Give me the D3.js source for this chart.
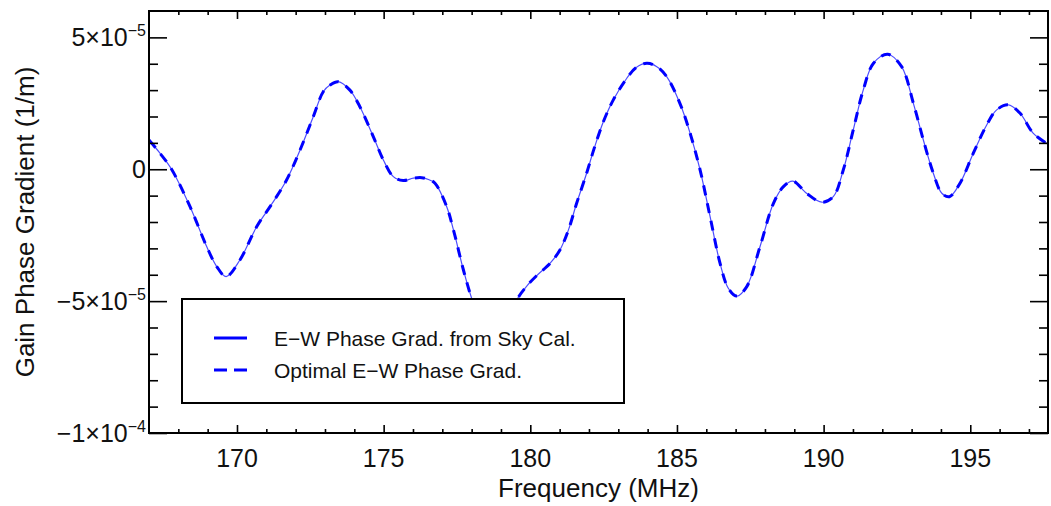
<!DOCTYPE html>
<html>
<head>
<meta charset="utf-8">
<style>
  body { margin: 0; background: #fff; }
  svg { display: block; font-family: "Liberation Sans", Arial, Helvetica, sans-serif; }
</style>
<script src="https://cdn.jsdelivr.net/npm/d3@7"></script>
</head>
<body>
<div id="chart"></div>
<script>
// frequency samples (MHz)
const freq = [167.0, 167.38, 167.77, 168.4, 168.97, 169.31, 169.63, 170.1, 170.67, 171.24,
  171.69, 172.15, 172.6, 172.94, 173.17, 173.45, 173.85, 174.19, 174.65, 174.99,
  175.33, 175.67, 176.01, 176.3, 176.55, 176.75, 177.15, 177.38, 177.72, 178.0,
  178.35, 178.75, 179.15, 179.57, 179.9, 180.25, 180.67, 181.01, 181.3, 181.58,
  181.92, 182.18, 182.49, 182.83, 183.29, 183.6, 183.97, 184.3, 184.65, 185.1,
  185.45, 185.79, 186.13, 186.47, 186.75, 187.04, 187.38, 187.83, 188.29, 188.63,
  188.95, 189.42, 189.94, 190.33, 190.67, 191.01, 191.35, 191.7, 192.18, 192.66,
  193.06, 193.4, 193.74, 194.03, 194.29, 194.65, 195.1, 195.56, 195.9, 196.3,
  196.7, 197.15, 197.65];

// E-W phase gradient from sky calibration (1/m)
const skyCalGrad = [1.11e-5, 0.6e-5, 0.0, -1.42e-5, -2.94e-5, -3.69e-5, -4.07e-5, -3.44e-5, -2.18e-5, -1.23e-5,
  -0.41e-5, 0.73e-5, 1.99e-5, 2.94e-5, 3.19e-5, 3.32e-5, 3.0e-5, 2.37e-5, 1.23e-5, 0.35e-5,
  -0.28e-5, -0.43e-5, -0.34e-5, -0.32e-5, -0.4e-5, -0.53e-5, -1.42e-5, -2.3e-5, -3.82e-5, -4.89e-5,
  -5.9e-5, -6.3e-5, -5.8e-5, -4.89e-5, -4.4e-5, -4.0e-5, -3.57e-5, -3.06e-5, -2.3e-5, -1.29e-5,
  -0.15e-5, 0.8e-5, 1.8e-5, 2.63e-5, 3.45e-5, 3.85e-5, 4.02e-5, 3.9e-5, 3.51e-5, 2.5e-5,
  1.36e-5, -0.03e-5, -1.8e-5, -3.57e-5, -4.51e-5, -4.81e-5, -4.45e-5, -2.94e-5, -1.29e-5, -0.66e-5,
  -0.45e-5, -0.91e-5, -1.25e-5, -1.04e-5, -0.03e-5, 1.49e-5, 3.0e-5, 4.02e-5, 4.36e-5, 3.89e-5,
  2.5e-5, 1.11e-5, -0.15e-5, -0.91e-5, -1.04e-5, -0.53e-5, 0.6e-5, 1.68e-5, 2.25e-5, 2.44e-5,
  2.12e-5, 1.36e-5, 0.95e-5];

// optimal E-W phase gradient (1/m) - overlaps the sky cal curve
const optimalGrad = [1.11e-5, 0.6e-5, 0.0, -1.42e-5, -2.94e-5, -3.69e-5, -4.07e-5, -3.44e-5, -2.18e-5, -1.23e-5,
  -0.41e-5, 0.73e-5, 1.99e-5, 2.94e-5, 3.19e-5, 3.32e-5, 3.0e-5, 2.37e-5, 1.23e-5, 0.35e-5,
  -0.28e-5, -0.43e-5, -0.34e-5, -0.32e-5, -0.4e-5, -0.53e-5, -1.42e-5, -2.3e-5, -3.82e-5, -4.89e-5,
  -5.9e-5, -6.3e-5, -5.8e-5, -4.89e-5, -4.4e-5, -4.0e-5, -3.57e-5, -3.06e-5, -2.3e-5, -1.29e-5,
  -0.15e-5, 0.8e-5, 1.8e-5, 2.63e-5, 3.45e-5, 3.85e-5, 4.02e-5, 3.9e-5, 3.51e-5, 2.5e-5,
  1.36e-5, -0.03e-5, -1.8e-5, -3.57e-5, -4.51e-5, -4.81e-5, -4.45e-5, -2.94e-5, -1.29e-5, -0.66e-5,
  -0.45e-5, -0.91e-5, -1.25e-5, -1.04e-5, -0.03e-5, 1.49e-5, 3.0e-5, 4.02e-5, 4.36e-5, 3.89e-5,
  2.5e-5, 1.11e-5, -0.15e-5, -0.91e-5, -1.04e-5, -0.53e-5, 0.6e-5, 1.68e-5, 2.25e-5, 2.44e-5,
  2.12e-5, 1.36e-5, 0.95e-5];

// tick labels
const xTicks = [170, 175, 180, 185, 190, 195];
const yTicks = [5e-5, 0, -5e-5, -1e-4];
const yTickMant = ["5×10", "0", "−5×10", "−1×10"];
const yTickExp = ["−5", "", "−5", "−4"];

const legendLabels = ["E\u2212W Phase Grad. from Sky Cal.", "Optimal E\u2212W Phase Grad."];

// SVG setup
const width = 1051, height = 506;
const margin = { top: 11, right: 3, bottom: 73, left: 149 };
const svg = d3.select("#chart").append("svg")
  .attr("width", width)
  .attr("height", height);

const x = d3.scaleLinear().domain([167, 197.65]).range([margin.left, width - margin.right]);
const y = d3.scaleLinear().domain([-1e-4, 6e-5]).range([height - margin.bottom, margin.top]);

const plotW = width - margin.right - margin.left;
const plotH = height - margin.bottom - margin.top;
const yBottom = y.range()[0], yTop = y.range()[1];
const xLeft = x.range()[0], xRight = x.range()[1];

svg.append("clipPath").attr("id", "clip")
  .append("rect")
  .attr("x", xLeft).attr("y", yTop)
  .attr("width", plotW).attr("height", plotH);

// curves
const line = d3.line()
  .x(d => x(d[0]))
  .y(d => y(d[1]))
  .curve(d3.curveCatmullRom.alpha(0.5));

const g = svg.append("g").attr("clip-path", "url(#clip)");
g.append("path")
  .datum(freq.map((f, i) => [f, skyCalGrad[i]]))
  .attr("d", line)
  .attr("fill", "none")
  .attr("stroke", "#0000ff")
  .attr("stroke-opacity", 0.7)
  .attr("stroke-width", 1.2);
g.append("path")
  .datum(freq.map((f, i) => [f, optimalGrad[i]]))
  .attr("d", line)
  .attr("fill", "none")
  .attr("stroke", "#0000ff")
  .attr("stroke-width", 3)
  .attr("stroke-dasharray", "10,8");

// legend box (opaque, sits over the curve)
const lg = svg.append("g");
lg.append("rect")
  .attr("x", 182).attr("y", 299)
  .attr("width", 442).attr("height", 104)
  .attr("fill", "#fff")
  .attr("stroke", "#000")
  .attr("stroke-width", 2);
[0, 1].forEach(i => {
  lg.append("line")
    .attr("x1", 214).attr("x2", 247)
    .attr("y1", 338 + i * 32).attr("y2", 338 + i * 32)
    .attr("stroke", "#0000ff")
    .attr("stroke-width", 3)
    .attr("stroke-dasharray", i === 1 ? "13,7" : null);
  lg.append("text")
    .attr("x", 274).attr("y", 346 + i * 32)
    .attr("font-size", 21)
    .attr("fill", "#111")
    .text(legendLabels[i]);
});

// axes - ticks point inward
const xMinor = d3.range(168, 198, 1).filter(v => !xTicks.includes(v));
const yMinor = d3.range(-9e-5, 6e-5, 1e-5).filter(v => Math.abs(v % 5e-5) > 1e-9);

function styleAxis(sel) {
  sel.select(".domain").remove();
  sel.selectAll("line").attr("stroke", "#000").attr("stroke-width", 1.6);
  sel.selectAll("text").remove();
}

svg.append("g").attr("transform", `translate(0,${yBottom})`)
  .call(d3.axisBottom(x).tickValues(xTicks).tickSize(-8)).call(styleAxis);
svg.append("g").attr("transform", `translate(0,${yBottom})`)
  .call(d3.axisBottom(x).tickValues(xMinor).tickSize(-4)).call(styleAxis);
svg.append("g").attr("transform", `translate(0,${yTop})`)
  .call(d3.axisTop(x).tickValues(xTicks).tickSize(-8)).call(styleAxis);
svg.append("g").attr("transform", `translate(0,${yTop})`)
  .call(d3.axisTop(x).tickValues(xMinor).tickSize(-4)).call(styleAxis);

svg.append("g").attr("transform", `translate(${xLeft},0)`)
  .call(d3.axisLeft(y).tickValues(yTicks).tickSize(-18)).call(styleAxis);
svg.append("g").attr("transform", `translate(${xLeft},0)`)
  .call(d3.axisLeft(y).tickValues(yMinor).tickSize(-9)).call(styleAxis);
svg.append("g").attr("transform", `translate(${xRight},0)`)
  .call(d3.axisRight(y).tickValues(yTicks).tickSize(-18)).call(styleAxis);
svg.append("g").attr("transform", `translate(${xRight},0)`)
  .call(d3.axisRight(y).tickValues(yMinor).tickSize(-9)).call(styleAxis);

// frame
svg.append("rect")
  .attr("x", xLeft).attr("y", yTop)
  .attr("width", plotW).attr("height", plotH)
  .attr("fill", "none")
  .attr("stroke", "#000")
  .attr("stroke-width", 2);

// x tick labels
svg.append("g").selectAll("text").data(xTicks).join("text")
  .attr("x", d => x(d))
  .attr("y", yBottom + 34)
  .attr("text-anchor", "middle")
  .attr("font-size", 25)
  .attr("fill", "#111")
  .text(d => d);

// y tick labels with exponent
const yl = svg.append("g").selectAll("text").data(yTicks).join("text")
  .attr("x", xLeft - 3)
  .attr("y", d => y(d) + 9)
  .attr("text-anchor", "end")
  .attr("font-size", 25)
  .attr("fill", "#111");
yl.append("tspan").text((d, i) => yTickMant[i]);
yl.append("tspan")
  .attr("font-size", 16)
  .attr("dy", -10)
  .text((d, i) => yTickExp[i]);

// axis titles
svg.append("text")
  .attr("x", (xLeft + xRight) / 2)
  .attr("y", 497)
  .attr("text-anchor", "middle")
  .attr("font-size", 26)
  .attr("fill", "#111")
  .text("Frequency (MHz)");

svg.append("text")
  .attr("transform", `translate(34,${(yTop + yBottom) / 2}) rotate(-90)`)
  .attr("text-anchor", "middle")
  .attr("font-size", 26)
  .attr("fill", "#111")
  .text("Gain Phase Gradient (1/m)");
</script>
</body>
</html>
